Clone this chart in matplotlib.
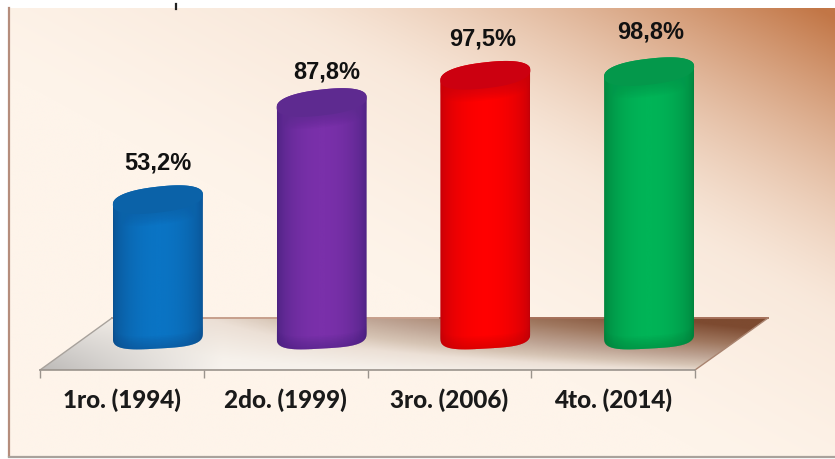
import numpy as np
import matplotlib
matplotlib.use("Agg")
import matplotlib.pyplot as plt
from matplotlib.patches import PathPatch, Polygon
from matplotlib.path import Path
from matplotlib.colors import LinearSegmentedColormap as LSC

categories = ["1ro. (1994)", "2do. (1999)", "3ro. (2006)", "4to. (2014)"]
values = [53.2, 87.8, 97.5, 98.8]
value_labels = ["53,2%", "87,8%", "97,5%", "98,8%"]

W, H = 835, 459
EDGE = ["#0a4f8e", "#4a2280", "#c00008", "#00813c"]
MID = ["#0a74c4", "#7a30aa", "#ff0000", "#00b457"]
TOP = ["#0b62a8", "#5e2a90", "#cc0010", "#04984b"]
LABEL_DY = [37, 31, 36, 40]
LABEL_DX = [0, 5, -3, 2]

fig = plt.figure(figsize=(W / 100, H / 100), dpi=100, facecolor="white")

# background layer in pixel coordinates
bg = fig.add_axes([0, 0, 1, 1])
bg.set_xlim(0, W); bg.set_ylim(H, 0); bg.axis("off")
yy, xx = np.mgrid[0:H, 0:W]
s0 = xx / W + (1 - yy / H)
d = 0.72 * np.clip((s0 - 1.3) / 0.68, 0, 1) ** 1.5 + 0.28 * np.clip((s0 - 0.85) / 1.13, 0, 1) ** 1.3
d = np.clip(d, 0, 1)
light = np.array([254, 244, 234]) / 255
dark = np.array([194, 118, 70]) / 255
img = light + (dark - light) * d[..., None]
bg.imshow(img, extent=(9, W, 456, 8), aspect="auto", zorder=0)
bg.plot([9, 9], [8, 456], color="#b58d7c", lw=1.6, zorder=1)
bg.plot([9, W], [456.5, 456.5], color="#a9a29b", lw=1.6, zorder=1)
bg.plot([176, 176], [4, 9], color="#222222", lw=1.6, zorder=1)

# floor
fy, fx = np.mgrid[0:80, 0:300]
u, v = fx / 299, fy / 79
s = np.clip(0.9 * u * (1 - v) + 0.3 * u ** 2, 0, 1)
floor_cmap = LSC.from_list("f", [(0, "#f8f4f0"), (0.07, "#f6f1eb"), (0.22, "#ece0d6"),
                                 (0.32, "#d6c4b4"), (0.46, "#bfa595"), (0.7, "#a07860"),
                                 (1, "#7d4a30")])
rgb = floor_cmap(s)[..., :3]
w = (np.clip(1 - u / 0.25, 0, 1) * v ** 0.6)[..., None]
rgb = rgb + (np.array([0.74, 0.73, 0.72]) - rgb) * w
fim = bg.imshow(rgb, extent=(40, 768, 370, 318), aspect="auto", zorder=2)
poly = Polygon([(40, 370), (695, 370), (768, 318), (112, 318)], transform=bg.transData,
               fc="none", ec="none")
bg.add_patch(poly)
fim.set_clip_path(poly)
bg.plot([112, 440], [318, 318], color="#c79f8c", lw=1.4, zorder=3)
bg.plot([440, 768], [318, 318], color="#a5705a", lw=1.4, zorder=3)
bg.plot([40, 112], [370, 318], color="#a8a29c", lw=1, zorder=3)
bg.plot([695, 768], [370, 318], color="#a98470", lw=1, zorder=3)
bg.set_xlim(0, W); bg.set_ylim(H, 0)

# chart axes: x 0..4 spans 40..695 px; y value 0 sits at 349 px
PX = 2.807
y_bot, y_top = -21 / PX, 341 / PX
ax = fig.add_axes([40 / W, 1 - 370 / H, 655 / W, 362 / H])
ax.patch.set_alpha(0)
ax.set_zorder(2)

x = np.arange(4) + 0.5
shift = 36 / 163.75
a = 45 / 163.75
b = 13 / PX
tilt = 5 / PX
foot_tilt = 2.5 / PX
base = 15 / PX
grad_x = np.linspace(0, 1, 200)
prof = np.sin(grad_x * np.pi) ** 0.55


def rim(t, n=0.72):
    """rounded (super-elliptic) outline around the cylinder centre"""
    cx = np.sign(np.cos(t)) * np.abs(np.cos(t)) ** n
    sy = np.sign(np.sin(t)) * np.abs(np.sin(t)) ** n
    return cx, sy


lo = np.linspace(np.pi, 2 * np.pi, 60)
hi = np.linspace(0, np.pi, 60)
t = np.linspace(0, 2 * np.pi, 120)

for i, (c, val) in enumerate(zip(x, values)):
    xc = c + shift
    cmap = LSC.from_list("b", [EDGE[i], MID[i]])
    cl, sl = rim(lo, 0.6)
    ch, sh = rim(hi, 0.85)
    sx = np.r_[xc + a * cl, xc + a * ch]
    sy = np.r_[base + b * 1.12 * sl + foot_tilt * cl, val + b * sh + tilt * ch]
    body = PathPatch(Path(np.c_[sx, sy]), fc="none", ec="none", transform=ax.transData)
    ax.add_patch(body)
    im = ax.imshow(prof[None, :], extent=(xc - a, xc + a, -10, val + 10), cmap=cmap,
                   vmin=0, vmax=1, aspect="auto", zorder=3)
    im.set_clip_path(body)
    # soft darkening at the foot of the cylinder
    for k in range(1, 9):
        px = k * 1.6 / PX
        foot = ax.fill(np.r_[xc + a * cl, xc + a, xc - a],
                       np.r_[base + b * 1.12 * sl + foot_tilt * cl + px, -12, -12],
                       color=EDGE[i], alpha=0.07, zorder=4, lw=0)[0]
        foot.set_clip_path(body)
    # soft shading under the top face
    ct, st = rim(t, 0.85)
    for k in range(1, 9):
        px = k * 1.5 / PX
        sh_ = ax.fill(xc + a * ct, val + b * st + tilt * ct - px, color=TOP[i],
                      alpha=0.10, zorder=4, lw=0)[0]
        sh_.set_clip_path(body)
    # top face
    ax.fill(xc + a * ct, val + b * st + tilt * ct, color=TOP[i], zorder=5, lw=0)
    ax.annotate(value_labels[i], (xc, val), xytext=(LABEL_DX[i] * 0.72, LABEL_DY[i] * 0.72),
                textcoords="offset points", ha="center", va="center",
                family="Liberation Sans", fontweight="bold", fontsize=17, color="#111111",
                zorder=6, annotation_clip=False)

ax.set_xlim(0, 4)
ax.set_ylim(y_bot, y_top)
ax.set_yticks([])
for sp in ("left", "right", "top"):
    ax.spines[sp].set_visible(False)
ax.spines["bottom"].set_color("#9a938c")
ax.spines["bottom"].set_linewidth(1.2)
ax.set_xticks(np.arange(5))
ax.set_xticklabels([])
ax.tick_params(axis="x", which="major", length=6, width=1, color="#9a938c", direction="out")
ax.set_xticks(x, categories, minor=True)
ax.tick_params(axis="x", which="minor", length=0, pad=13)
for lab in ax.get_xticklabels(minor=True):
    lab.set_fontfamily("Lato")
    lab.set_fontweight("black")
    lab.set_fontsize(17.5)
    lab.set_color("#1a1a1a")

fig.savefig("out.png", dpi=100, facecolor="white")
